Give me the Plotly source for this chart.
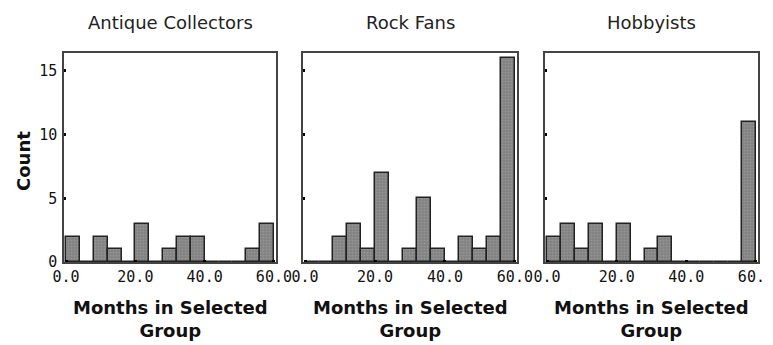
import plotly.graph_objects as go

# histogram bins (months), width 4
bin_centers = [2, 6, 10, 14, 18, 22, 26, 30, 34, 38, 42, 46, 50, 54, 58]
groups = ["Antique Collectors", "Rock Fans", "Hobbyists"]
antique_counts = [2, 0, 2, 1, 0, 3, 0, 1, 2, 2, 0, 0, 0, 1, 3]
rock_counts = [0, 0, 2, 3, 1, 7, 0, 1, 5, 1, 0, 2, 1, 2, 16]
hobby_counts = [2, 3, 1, 3, 0, 3, 0, 1, 2, 0, 0, 0, 0, 0, 11]
x_ticks = [0, 20, 40, 60]
x_tick_labels = ["0.0", "20.0", "40.0", "60.0"]
y_ticks = [0, 5, 10, 15]

# page body has an 8px margin; work in window pixels and convert
OFF = 8
W, H = 773, 345 - OFF


def px_x(x):
    return (x - OFF) / W


def px_y(y):
    return (H - (y - OFF)) / H


panels_px = [(64, 276), (303, 517), (545, 758)]
y_bottom_px, y_top_px = 262, 53

fig = go.Figure()
tick_font = dict(family="DejaVu Sans Mono", size=15, color="#111")

for i, counts in enumerate([antique_counts, rock_counts, hobby_counts]):
    n = "" if i == 0 else str(i + 1)
    fig.add_trace(go.Bar(
        x=bin_centers, y=counts, width=4,
        xaxis="x" + n, yaxis="y" + n,
        marker=dict(color="#838383", line=dict(color="#222", width=1.5),
                    pattern=dict(shape=".", size=3, solidity=0.25, fgcolor="#aaaaaa")),
        showlegend=False,
    ))
    x0, x1 = panels_px[i]
    fig.update_layout(**{
        "xaxis" + n: dict(
            domain=[px_x(x0), px_x(x1)], range=[-0.6, 60.6], anchor="y" + n,
            tickvals=x_ticks, ticktext=x_tick_labels, ticks="inside",
            ticklen=2, tickwidth=3, tickcolor="#000", tickfont=tick_font,
            ticklabelstandoff=0, ticklabeloverflow="allow",
            showline=True, mirror=True, linecolor="#444", linewidth=1.5,
            showgrid=False, zeroline=False, automargin=False,
        ),
        "yaxis" + n: dict(
            domain=[px_y(y_bottom_px), px_y(y_top_px)], range=[0, 16.4],
            anchor="x" + n, tickvals=y_ticks, ticks="inside", ticklen=2,
            tickwidth=3, tickcolor="#000", tickfont=tick_font,
            showticklabels=(i == 0), ticklabelstandoff=2,
            showline=True, mirror=True, linecolor="#444", linewidth=1.5,
            showgrid=False, zeroline=False, automargin=False,
        ),
    })
    cx = px_x((x0 + x1) / 2)
    fig.add_annotation(text=groups[i], x=cx, y=px_y(23), xref="paper", yref="paper",
                       xanchor="center", yanchor="middle", showarrow=False,
                       font=dict(family="DejaVu Sans", size=18, color="#222"))
    fig.add_annotation(text="<b>Months in Selected<br>Group</b>", x=cx, y=px_y(319),
                       xref="paper", yref="paper", xanchor="center", yanchor="middle",
                       showarrow=False,
                       font=dict(family="DejaVu Sans", size=18, color="#111"))

fig.add_annotation(text="<b>Count</b>", x=px_x(23), y=px_y(161), xref="paper", yref="paper",
                   xanchor="center", yanchor="middle", textangle=-90, showarrow=False,
                   font=dict(family="DejaVu Sans", size=18, color="#111"))

fig.update_layout(
    width=W, height=H, margin=dict(l=0, r=0, t=0, b=0),
    paper_bgcolor="white", plot_bgcolor="white", bargap=0,
)

fig.write_html("out.html")
